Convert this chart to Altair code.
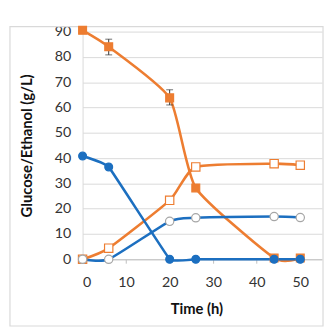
import altair as alt
import pandas as pd

time_h = [0, 6, 20, 26, 44, 50]
glucose_orange = [90.5, 84, 63.8, 28.2, 0.5, 0.5]
ethanol_orange = [0, 4.4, 23.3, 36.5, 37.8, 37.2]
glucose_blue = [40.8, 36.5, 0, 0, 0, 0]
ethanol_blue = [0, 0, 15, 16.4, 16.9, 16.5]

err_time = [6, 20]
err_lo = [80.8, 61]
err_hi = [87, 67]

x_ticks = [0, 10, 20, 30, 40, 50]
y_ticks = [0, 10, 20, 30, 40, 50, 60, 70, 80, 90]

ORANGE = "#ED7D31"
BLUE = "#1C6FC0"
FONT = "Lato"

df = pd.DataFrame({"t": time_h, "go": glucose_orange, "eo": ethanol_orange,
                   "gb": glucose_blue, "eb": ethanol_blue})
err = pd.DataFrame({"t": err_time, "lo": err_lo, "hi": err_hi})

xs = alt.Scale(domain=[0, 55], nice=False)
ys = alt.Scale(domain=[0, 90], nice=False)

xax = alt.Axis(values=x_ticks, title="Time (h)", grid=False,
               domainColor="#bfbfbf", tickColor="#bfbfbf", tickSize=4,
               labelPadding=13, labelFontSize=14.5, labelColor="#333",
               labelOverlap=False,
               titleFontSize=15, titleFontWeight="bold", titlePadding=13,
               titleColor="#111", labelFont=FONT, titleFont=FONT,
               titleX=116)
yax = alt.Axis(values=y_ticks, tickCount=10, title="Glucose/Ethanol (g/L)",
               gridColor="#d9d9d9", domainColor="#d9d9d9", ticks=False,
               labelPadding=12, labelFontSize=14.5, labelColor="#333",
               labelOverlap=False,
               titleFontSize=15, titleFontWeight="bold", titlePadding=20,
               titleColor="#111", labelFont=FONT, titleFont=FONT)

X = alt.X("t:Q", scale=xs, axis=xax)

def Y(col):
    return alt.Y(f"{col}:Q", scale=ys, axis=yax, title="Glucose/Ethanol (g/L)")

frame = alt.Chart(alt.Data(values=[{}])).mark_rect(
    fill=None, stroke="#d9d9d9", strokeWidth=1.2
).encode(x=alt.value(-74), x2=alt.value(245), y=alt.value(-5), y2=alt.value(300))

base = alt.Chart(df)

def line(col, color, tension=0.45):
    return base.mark_line(color=color, strokeWidth=2.6, interpolate="cardinal",
                          tension=tension).encode(x=X, y=Y(col))

def pts(col, shape, fill, stroke, size):
    return base.mark_point(shape=shape, filled=True, fill=fill, stroke=stroke,
                           strokeWidth=1.2, size=size, opacity=1).encode(x=X, y=Y(col))

errs = alt.Chart(err).mark_rule(color="#333", strokeWidth=1).encode(
    x=X, y=Y("lo"), y2="hi:Q")
caps_lo = alt.Chart(err).mark_tick(orient="horizontal", color="#333", size=7, thickness=1).encode(
    x=X, y=Y("lo"))
caps_hi = alt.Chart(err).mark_tick(orient="horizontal", color="#333", size=7, thickness=1).encode(
    x=X, y=Y("hi"))

chart = alt.layer(
    frame,
    line("go", ORANGE), line("eo", ORANGE), line("gb", BLUE, 0.8), line("eb", BLUE),
    errs, caps_lo, caps_hi,
    pts("go", "square", ORANGE, ORANGE, 64),
    pts("eo", "square", "white", ORANGE, 72),
    pts("gb", "circle", BLUE, BLUE, 64),
    pts("eb", "circle", "white", "#a6a6a6", 72),
).properties(
    width=244, height=232,
    autosize=alt.AutoSizeParams(type="none"),
    padding={"left": 76, "top": 21, "right": 2, "bottom": 68},
).configure_view(stroke=None)

chart.save("out.html", embed_options={"renderer": "svg", "actions": False})
